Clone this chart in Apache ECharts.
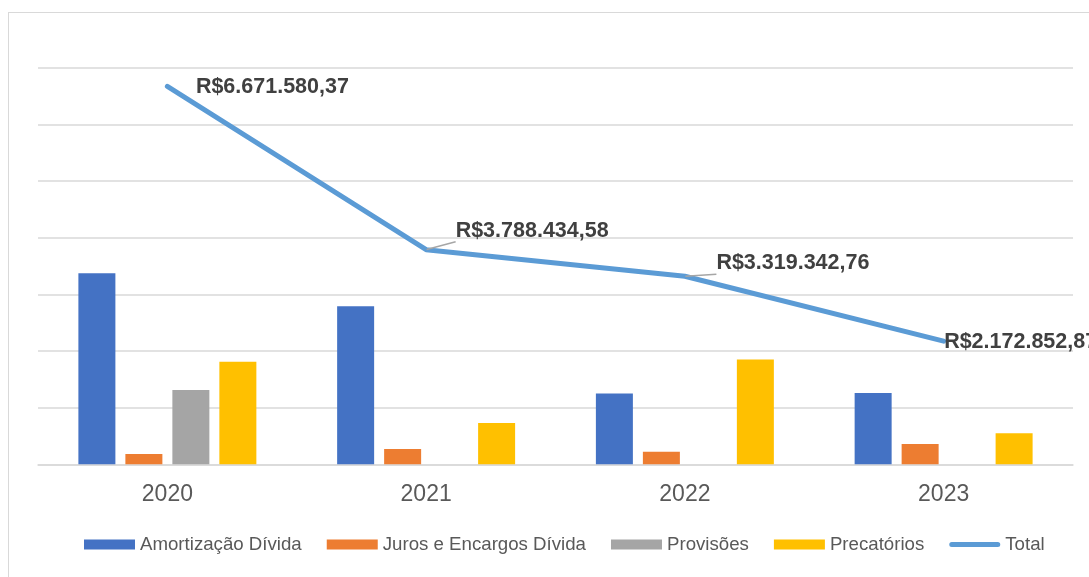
<!DOCTYPE html>
<html>
<head>
<meta charset="utf-8">
<script src="https://cdn.jsdelivr.net/npm/echarts@6/dist/echarts.min.js"></script>
<style>
  html, body { margin: 0; padding: 0; background: #fff; overflow: hidden; }
  #wrap { position: relative; width: 1089px; height: 577px; overflow: hidden; background: #fff; }
  #frame { position: absolute; left: 8px; top: 12px; width: 1200px; height: 700px; border: 1px solid #d9d9d9; box-sizing: border-box; }
  #chart { position: absolute; left: 0; top: 0; width: 1089px; height: 577px; }
</style>
</head>
<body>
<div id="wrap">
  <div id="frame"></div>
  <div id="chart"></div>
</div>
<script>
const categories = ['2020', '2021', '2022', '2023'];
const amortizacao = [3370000, 2790000, 1250000, 1260000];
const juros = [180000, 270000, 220000, 360000];
const provisoes = [1310000, 0, 0, 0];
const precatorios = [1810000, 730000, 1850000, 550000];
const total = [6671580.37, 3788434.58, 3319342.76, 2172852.87];
const totalLabels = ['R$6.671.580,37', 'R$3.788.434,58', 'R$3.319.342,76', 'R$2.172.852,87'];
const labelOffsets = [[23, 1], [24, -19], [26, -13], [-5, 1]];
const leaderShown = [false, true, true, false];

const chart = echarts.init(document.getElementById('chart'), null, { renderer: 'canvas' });

const barBase = { type: 'bar', barWidth: 37, barGap: '27%' };
const lineIcon = 'path://M0,0h0.01v0.01h-0.01z M50.99,9.99h0.01v0.01h-0.01z M2.5,2.5H48.5A2.5,2.5 0 0 1 48.5,7.5H2.5A2.5,2.5 0 0 1 2.5,2.5Z';

const option = {
  animation: false,
  textStyle: { fontFamily: 'Liberation Sans, Arial, sans-serif' },
  grid: { left: 38, right: 16, top: 67.7, bottom: 112.7, containLabel: false },
  legend: {
    left: 79,
    top: 530,
    itemWidth: 51,
    itemHeight: 10,
    itemGap: 25,
    textStyle: { fontSize: 18.67, color: '#595959', fontFamily: 'Liberation Sans, Arial, sans-serif' },
    data: [
      { name: 'Amortização Dívida', icon: 'rect' },
      { name: 'Juros e Encargos Dívida', icon: 'rect' },
      { name: 'Provisões', icon: 'rect' },
      { name: 'Precatórios', icon: 'rect' },
      { name: 'Total', icon: lineIcon, itemStyle: { color: '#5B9BD5' } }
    ]
  },
  xAxis: {
    type: 'category',
    data: categories,
    axisLine: { show: true, lineStyle: { color: '#d9d9d9', width: 1.5 } },
    axisTick: { show: false },
    axisLabel: { fontSize: 23, color: '#595959', margin: 19 }
  },
  yAxis: {
    type: 'value',
    min: 0,
    max: 7000000,
    interval: 1000000,
    axisLabel: { show: false },
    axisLine: { show: false },
    axisTick: { show: false },
    splitLine: { lineStyle: { color: '#d9d9d9', width: 1.5 } }
  },
  series: [
    Object.assign({}, barBase, { name: 'Amortização Dívida', data: amortizacao, itemStyle: { color: '#4472C4' } }),
    Object.assign({}, barBase, { name: 'Juros e Encargos Dívida', data: juros, itemStyle: { color: '#ED7D31' } }),
    Object.assign({}, barBase, { name: 'Provisões', data: provisoes, itemStyle: { color: '#A5A5A5' } }),
    Object.assign({}, barBase, { name: 'Precatórios', data: precatorios, itemStyle: { color: '#FFC000' } }),
    {
      name: 'Total',
      type: 'line',
      symbol: 'circle',
      symbolSize: 1,
      showSymbol: true,
      z: 5,
      lineStyle: { color: '#5B9BD5', width: 5, cap: 'round', join: 'round' },
      itemStyle: { color: 'rgba(0,0,0,0)' },
      data: total.map((v, i) => ({
        value: v,
        label: {
          show: true,
          position: 'right',
          distance: 5,
          offset: labelOffsets[i],
          formatter: totalLabels[i],
          fontSize: 21.5,
          fontWeight: 'bold',
          color: '#404040',
          fontFamily: 'Liberation Sans, Arial, sans-serif'
        },
        labelLine: { show: leaderShown[i], lineStyle: { color: '#a6a6a6', width: 1.5 } }
      }))
    }
  ]
};

chart.setOption(option);
</script>
</body>
</html>
